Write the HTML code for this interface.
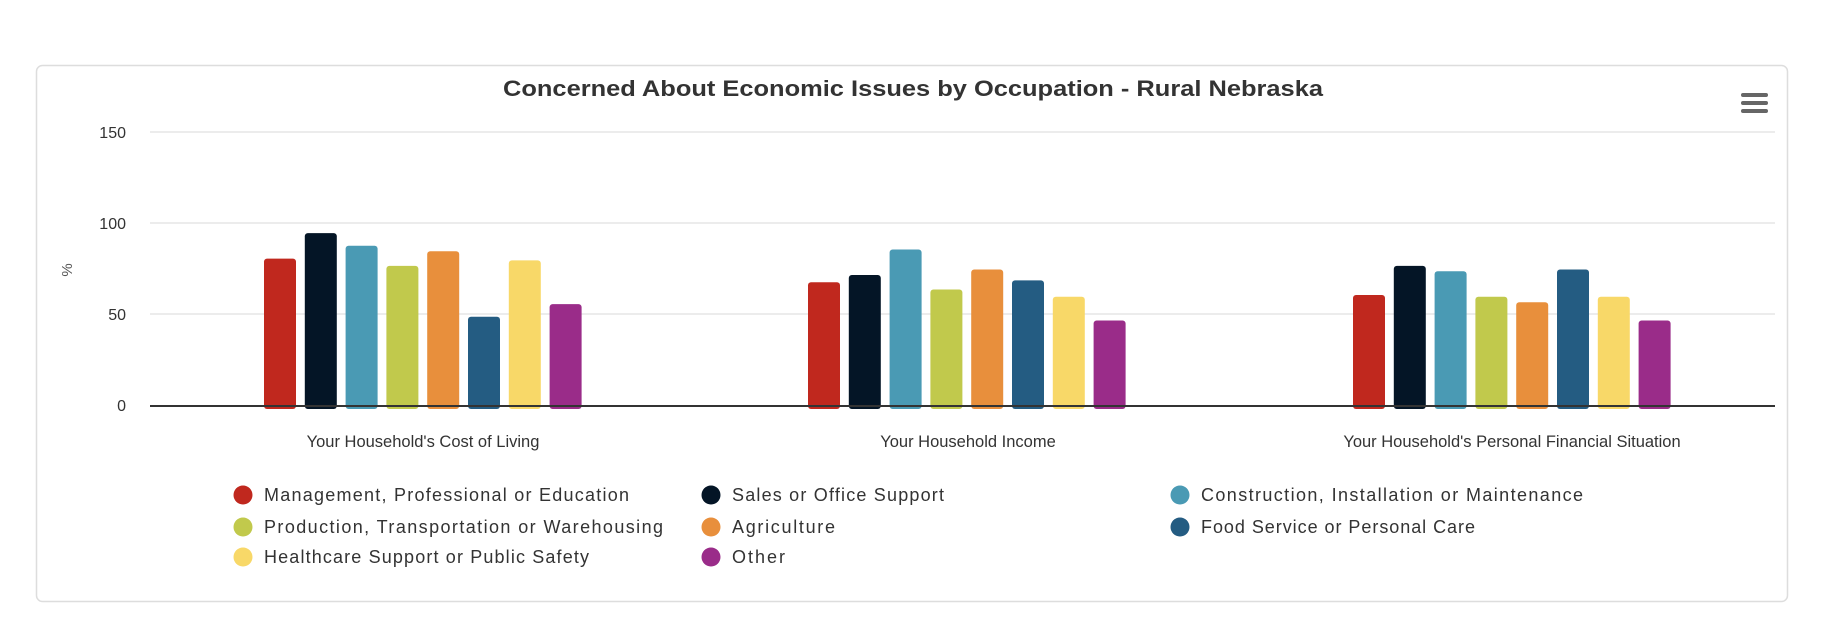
<!DOCTYPE html>
<html><head><meta charset="utf-8"><style>
html,body{margin:0;padding:0;background:#fff;}
svg{display:block;font-family:"Liberation Sans",sans-serif;}
</style></head><body>
<svg width="1830" height="644" viewBox="0 0 1830 644" xmlns="http://www.w3.org/2000/svg">
<rect x="36.5" y="65.5" width="1751" height="536" rx="6" fill="#fff" stroke="#ddd" stroke-width="1.5"/>
<text x="913" y="96" text-anchor="middle" font-size="22" font-weight="bold" fill="#333" textLength="820" lengthAdjust="spacingAndGlyphs">Concerned About Economic Issues by Occupation - Rural Nebraska</text>
<g fill="#666"><rect x="1741" y="93" width="27" height="4" rx="2"/><rect x="1741" y="101" width="27" height="4" rx="2"/><rect x="1741" y="109" width="27" height="4" rx="2"/></g>
<g stroke="#e6e6e6" stroke-width="1.5">
<line x1="150" x2="1775" y1="132" y2="132"/><line x1="150" x2="1775" y1="223" y2="223"/><line x1="150" x2="1775" y1="314" y2="314"/>
</g>
<g font-size="16" fill="#333" text-anchor="end">
<text x="126" y="138">150</text><text x="126" y="229">100</text><text x="126" y="320">50</text><text x="126" y="411">0</text>
</g>
<text transform="translate(72,270) rotate(-90)" text-anchor="middle" font-size="15" fill="#555">%</text>
<g id="bars"></g>
<line x1="150" x2="1775" y1="406" y2="406" stroke="#333" stroke-width="2"/>
<g font-size="16.5" fill="#333" text-anchor="middle">
<text x="423" y="447">Your Household's Cost of Living</text>
<text x="968" y="447">Your Household Income</text>
<text x="1512" y="447">Your Household's Personal Financial Situation</text>
</g>
<g font-size="18" fill="#333">
<circle cx="243" cy="495" r="9.5" fill="#c0281e"/><text x="264" y="501" textLength="365">Management, Professional or Education</text>
<circle cx="711" cy="495" r="9.5" fill="#041526"/><text x="732" y="501" textLength="212">Sales or Office Support</text>
<circle cx="1180" cy="495" r="9.5" fill="#4a9ab4"/><text x="1201" y="501" textLength="382">Construction, Installation or Maintenance</text>
<circle cx="243" cy="527" r="9.5" fill="#c1c94c"/><text x="264" y="533" textLength="399">Production, Transportation or Warehousing</text>
<circle cx="711" cy="527" r="9.5" fill="#e88f3c"/><text x="732" y="533" textLength="103">Agriculture</text>
<circle cx="1180" cy="527" r="9.5" fill="#245c82"/><text x="1201" y="533" textLength="274">Food Service or Personal Care</text>
<circle cx="243" cy="557" r="9.5" fill="#f8d868"/><text x="264" y="563" textLength="325">Healthcare Support or Public Safety</text>
<circle cx="711" cy="557" r="9.5" fill="#9a2c89"/><text x="732" y="563" textLength="53">Other</text>
</g>
</svg>
<script>
var colors=["#c0281e","#041526","#4a9ab4","#c1c94c","#e88f3c","#245c82","#f8d868","#9a2c89"];
var data=[[81,95,88,77,85,49,80,56],[68,72,86,64,75,69,60,47],[61,77,74,60,57,75,60,47]];
var starts=[264,808,1353];
var g=document.getElementById("bars"),s="";
for(var c=0;c<3;c++)for(var i=0;i<8;i++){var v=data[c][i],h=v*1.82,x=starts[c]+i*40.8;
s+='<rect x="'+x.toFixed(1)+'" y="'+(406-h).toFixed(1)+'" width="32" height="'+(h+3).toFixed(1)+'" rx="3" fill="'+colors[i]+'"/>';}
g.innerHTML=s;
</script>
</body></html>
